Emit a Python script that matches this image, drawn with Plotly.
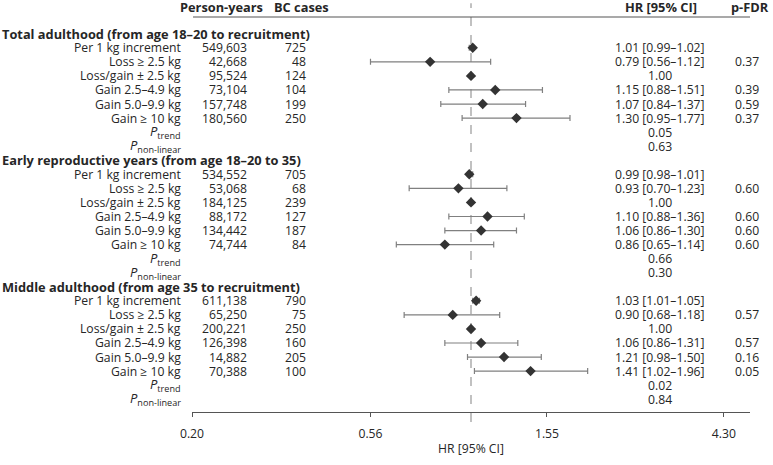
import plotly.graph_objects as go

# ---------------- data ----------------
sections = [
    "Total adulthood (from age 18\u201320 to recruitment)",
    "Early reproductive years (from age 18\u201320 to 35)",
    "Middle adulthood (from age 35 to recruitment)",
]
categories = ["Per 1 kg increment", "Loss \u2265 2.5 kg", "Loss/gain \u00b1 2.5 kg",
              "Gain 2.5\u20134.9 kg", "Gain 5.0\u20139.9 kg", "Gain \u2265 10 kg"]

person_years = [
    ["549,603", "42,668", "95,524", "73,104", "157,748", "180,560"],
    ["534,552", "53,068", "184,125", "88,172", "134,442", "74,744"],
    ["611,138", "65,250", "200,221", "126,398", "14,882", "70,388"],
]
bc_cases = [
    ["725", "48", "124", "104", "199", "250"],
    ["705", "68", "239", "127", "187", "84"],
    ["790", "75", "250", "160", "205", "100"],
]
hr = [
    [1.01, 0.79, 1.00, 1.15, 1.07, 1.30],
    [0.99, 0.93, 1.00, 1.10, 1.06, 0.86],
    [1.03, 0.90, 1.00, 1.06, 1.21, 1.41],
]
ci_low = [
    [0.99, 0.56, None, 0.88, 0.84, 0.95],
    [0.98, 0.70, None, 0.88, 0.86, 0.65],
    [1.01, 0.68, None, 0.86, 0.98, 1.02],
]
ci_high = [
    [1.02, 1.12, None, 1.51, 1.37, 1.77],
    [1.01, 1.23, None, 1.36, 1.30, 1.14],
    [1.05, 1.18, None, 1.31, 1.50, 1.96],
]
p_fdr = [
    ["", "0.37", "", "0.39", "0.59", "0.37"],
    ["", "0.60", "", "0.60", "0.60", "0.60"],
    ["", "0.57", "", "0.57", "0.16", "0.05"],
]
p_trend = ["0.05", "0.66", "0.02"]
p_nonlinear = ["0.63", "0.30", "0.84"]
tick_vals = [0.20, 0.56, 1.55, 4.30]
tick_text = ["0.20", "0.56", "1.55", "4.30"]

# ---------------- layout helpers ----------------
W, H = 773, 465
L, R = 192, 750          # plot area in pixels
T, B = 17, 418
FONT = "Open Sans, Noto Sans, sans-serif"
TXT = "#262626"
FS = 12.2
FSB = 12.8


def px(xp):
    return (xp - L) / (R - L)


rows_per_section = 9
xs, ys, em, ep = [], [], [], []
annotations = []


def ann(text, xpix, row, anchor, bold=False, size=FS):
    annotations.append(dict(
        text=("<b>%s</b>" % text) if bold else text,
        x=px(xpix), xref="paper", y=row, yref="y",
        xanchor=anchor, yanchor="middle", showarrow=False,
        font=dict(family=FONT, size=size, color=TXT),
    ))


for s, sec in enumerate(sections):
    base = s * rows_per_section
    ann(sec, 0, base, "left", bold=True, size=FSB)
    for i, cat in enumerate(categories):
        r = base + 1 + i
        ann(cat, 183, r, "right")
        ann(person_years[s][i], 249, r, "right")
        ann(bc_cases[s][i], 308, r, "right")
        v = hr[s][i]
        if ci_low[s][i] is None:
            ann("%.2f" % v, 660, r, "center")
            em.append(0); ep.append(0)
        else:
            ann("%.2f [%.2f\u2013%.2f]" % (v, ci_low[s][i], ci_high[s][i]), 660, r, "center")
            em.append(v - ci_low[s][i]); ep.append(ci_high[s][i] - v)
        if p_fdr[s][i]:
            ann(p_fdr[s][i], 747, r, "center")
        xs.append(v); ys.append(r)
    ann("<i>P</i><sub>trend</sub>", 183, base + 7, "right", size=13)
    ann("<i>P</i><sub>non-linear</sub>", 183, base + 8, "right", size=13)
    ann(p_trend[s], 660, base + 7, "center")
    ann(p_nonlinear[s], 660, base + 8, "center")

# headers
for text, xpix in [("Person-years", 221), ("BC cases", 301), ("HR [95% CI]", 661), ("p-FDR", 750)]:
    annotations.append(dict(
        text="<b>%s</b>" % text, x=px(xpix), xref="paper", y=(B - 7) / (B - T), yref="paper",
        xanchor="center", yanchor="middle", showarrow=False, borderpad=0,
        font=dict(family=FONT, size=FSB, color=TXT),
    ))

pitch = 14.27
row0 = 34
y_top = (T - row0) / pitch
y_bot = (B - row0) / pitch

fig = go.Figure()
fig.add_trace(go.Scatter(
    x=xs, y=ys, mode="markers",
    marker=dict(symbol="diamond", size=8, color="#333333"),
    error_x=dict(type="data", symmetric=False, array=ep, arrayminus=em,
                 color="#808080", thickness=1.2, width=3),
    showlegend=False, hoverinfo="skip",
))

shapes = [
    dict(type="line", xref="x", yref="paper", x0=1, x1=1, y0=-0.025, y1=1.035,
         line=dict(color="#a0a0a0", width=1.3, dash="dash"), layer="below"),
    dict(type="line", xref="paper", yref="paper", x0=px(193), x1=1, y0=1, y1=1,
         line=dict(color="#555555", width=1.2)),
]

fig.update_layout(
    width=W, height=H,
    margin=dict(l=L, r=W - R, t=T, b=H - B),
    paper_bgcolor="white", plot_bgcolor="white",
    font=dict(family=FONT, size=FS, color=TXT),
    xaxis=dict(type="log", range=[-0.69897, 0.69897], tickvals=tick_vals, ticktext=tick_text,
               showgrid=False, zeroline=False, showline=True, linecolor="#555555", linewidth=1.2,
               ticks="outside", ticklen=4, tickcolor="#555555", ticklabelstandoff=6,
               title=dict(text="HR [95% CI]", font=dict(family=FONT, size=FS, color=TXT), standoff=3),
               tickfont=dict(family=FONT, size=FS, color=TXT)),
    yaxis=dict(range=[y_bot, y_top], visible=False, showgrid=False, zeroline=False),
    shapes=shapes,
    annotations=annotations,
)

fig.write_html("out.html", config={"displayModeBar": False},
               post_script="document.body.style.margin='0';document.body.style.overflow='hidden';")
